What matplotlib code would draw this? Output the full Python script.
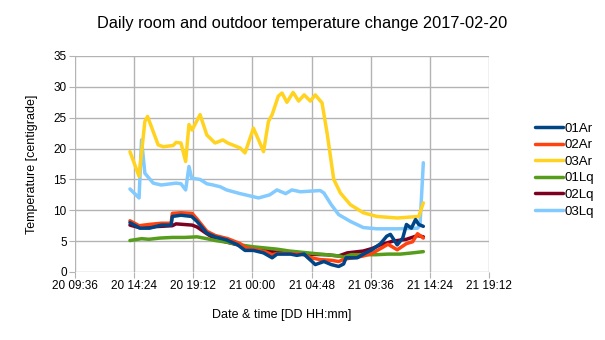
import numpy as np
import matplotlib.pyplot as plt

plt.rcParams['font.family'] = ['Liberation Sans', 'DejaVu Sans']

# time axis in hours counted from 20th 00:00
tick_hours = [9.6, 14.4, 19.2, 24.0, 28.8, 33.6, 38.4, 43.2]
tick_labels = ["20 09:36", "20 14:24", "20 19:12", "21 00:00",
               "21 04:48", "21 09:36", "21 14:24", "21 19:12"]

# 01Ar
t_01ar = [14.06, 14.87, 15.65, 16.6, 17.4, 17.5, 18.2, 19.07, 19.5, 20.3, 20.97, 21.9,
          22.8, 23.4, 24.08, 24.9, 25.6, 26.0, 27.1, 27.6, 28.2, 28.5, 28.84, 29.1, 29.8,
          30.4, 31.0, 31.4, 31.6, 32.5, 33.2, 33.7, 34.4, 34.9, 35.2, 35.75, 36.2, 36.5,
          36.9, 37.24, 37.5, 37.87]
v_01ar = [8.0, 7.1, 7.1, 7.6, 7.6, 9.0, 9.2, 9.0, 8.2, 6.3, 5.7, 5.2,
          4.4, 3.5, 3.5, 3.1, 2.3, 2.9, 2.9, 2.7, 2.9, 2.3, 1.7, 1.2, 1.7,
          1.2, 0.9, 1.3, 2.3, 2.3, 3.1, 3.6, 4.6, 5.8, 6.1, 4.4, 5.5, 7.7,
          7.1, 8.5, 7.7, 7.4]

# 02Ar
t_02ar = [14.06, 14.8, 15.6, 16.6, 17.4, 17.5, 18.2, 19.1, 19.5, 20.3, 21.0, 22.0,
          23.0, 23.5, 24.1, 25.0, 25.6, 26.0, 27.0, 28.0, 28.8, 29.5, 30.4, 31.0,
          31.5, 32.5, 33.0, 33.7, 34.4, 35.0, 35.75, 36.5, 37.0, 37.4, 37.87]
v_02ar = [8.3, 7.5, 7.7, 7.9, 7.9, 9.5, 9.6, 9.5, 8.6, 6.6, 5.9, 5.4,
          4.6, 3.9, 3.7, 3.3, 2.8, 3.0, 3.0, 2.9, 2.3, 2.0, 1.9, 1.7,
          2.1, 2.4, 2.6, 3.0, 3.8, 4.5, 3.6, 4.6, 4.9, 6.2, 5.5]

# 03Ar
t_03ar = [14.06, 14.8, 15.27, 15.49, 16.35, 16.76, 17.57, 17.8, 18.2, 18.58, 18.85, 19.1,
          19.75, 20.3, 20.97, 21.6, 22.0, 23.0, 23.4, 24.08, 24.5, 24.9, 25.3, 25.6,
          26.1, 26.4, 26.8, 27.3, 27.75, 28.2, 28.7, 29.1, 29.65, 30.06, 30.6, 31.14,
          31.95, 33.0, 34.1, 35.75, 37.5, 37.87]
v_03ar = [19.5, 15.5, 24.4, 25.2, 20.6, 20.3, 20.5, 21.0, 20.9, 17.9, 23.9, 23.0,
          25.5, 22.2, 20.9, 21.4, 20.9, 20.1, 19.3, 23.3, 21.4, 19.5, 24.4, 25.5,
          28.5, 29.0, 27.5, 29.1, 27.7, 28.7, 27.7, 28.7, 27.4, 22.5, 15.0, 12.8,
          10.9, 9.6, 9.0, 8.75, 9.0, 11.2]

# 01Lq
t_01lq = [14.06, 15.0, 15.6, 16.5, 17.5, 18.5, 19.5, 20.3, 21.0, 22.0, 23.0, 24.0,
          25.0, 26.0, 27.0, 28.0, 29.0, 30.0, 31.0, 31.4, 32.0, 33.0, 34.0, 35.0,
          36.0, 37.0, 37.87]
v_01lq = [5.1, 5.4, 5.3, 5.5, 5.6, 5.6, 5.7, 5.4, 5.1, 4.8, 4.4, 4.1,
          3.9, 3.7, 3.4, 3.2, 3.0, 2.8, 2.6, 2.4, 2.8, 2.8, 2.8, 2.9,
          2.9, 3.1, 3.3]

# 02Lq
t_02lq = [14.06, 14.8, 15.6, 16.6, 17.5, 17.8, 19.1, 19.5, 20.3, 21.0, 22.0, 23.0,
          24.0, 25.0, 26.0, 27.0, 28.0, 30.0, 31.0, 31.7, 33.0, 33.7, 34.4, 35.4,
          36.5, 37.4, 37.87]
v_02lq = [7.6, 7.2, 7.3, 7.4, 7.5, 7.8, 7.6, 7.3, 6.2, 5.3, 4.8, 4.3,
          3.8, 3.5, 3.2, 3.1, 2.9, 2.8, 2.6, 3.1, 3.4, 3.8, 4.4, 5.0,
          5.3, 5.9, 5.7]

# 03Lq
t_03lq = [14.06, 14.8, 15.0, 15.27, 15.95, 16.6, 17.8, 18.2, 18.58, 18.85, 19.07, 19.75,
          20.3, 20.8, 21.4, 21.9, 23.0, 24.08, 24.5, 25.4, 25.99, 26.7, 27.2, 27.9,
          29.5, 29.8, 30.4, 31.0, 31.95, 33.0, 34.1, 35.75, 37.4, 37.6, 37.87]
v_03lq = [13.45, 12.0, 21.4, 16.0, 14.4, 14.1, 14.4, 14.3, 13.3, 17.1, 15.2, 15.0,
          14.3, 14.1, 13.8, 13.3, 12.7, 12.2, 12.0, 12.5, 13.3, 12.7, 13.3, 13.0,
          13.2, 12.8, 10.9, 9.3, 8.2, 7.2, 7.0, 7.0, 7.1, 7.6, 17.7]

series = [
    ("01Ar", t_01ar, v_01ar, "#004586"),
    ("02Ar", t_02ar, v_02ar, "#ff420e"),
    ("03Ar", t_03ar, v_03ar, "#ffd320"),
    ("01Lq", t_01lq, v_01lq, "#579d1c"),
    ("02Lq", t_02lq, v_02lq, "#7e0021"),
    ("03Lq", t_03lq, v_03lq, "#83caff"),
]

fig = plt.figure(figsize=(6.05, 3.4), dpi=100)
ax = fig.add_axes([75/605, 68/340, 414/605, 216/340])

n = len(series)
for i, (name, t, v, c) in enumerate(series):
    ax.plot(t, v, color=c, lw=2.5, label=name, zorder=10 + n - i,
            solid_joinstyle='round', solid_capstyle='round')

ax.set_xlim(tick_hours[0], tick_hours[-1])
ax.set_ylim(0, 35)
ax.set_xticks(tick_hours)
ax.set_xticklabels(tick_labels)
ax.set_yticks(np.arange(0, 36, 5))

ax.grid(True, color='#b3b3b3', lw=1)
ax.set_axisbelow(True)
for s in ax.spines.values():
    s.set_visible(False)
ax.tick_params(axis='both', length=4, color='#b3b3b3', labelsize=8.5, pad=2)

ax.set_xlabel("Date & time [DD HH:mm]", fontsize=9, labelpad=12)
ax.set_ylabel("Temperature [centigrade]", fontsize=9, labelpad=11)
fig.text(0.5, 0.93, "Daily room and outdoor temperature change 2017-02-20",
         ha='center', va='center', fontsize=11.8)

ax.legend(loc='center left', bbox_to_anchor=(530/605, 0.5), bbox_transform=fig.transFigure,
          frameon=False, fontsize=9.5, handlelength=2.1, handletextpad=0.15,
          labelspacing=0.33, borderaxespad=0)

fig.savefig('out.png', dpi=100)
